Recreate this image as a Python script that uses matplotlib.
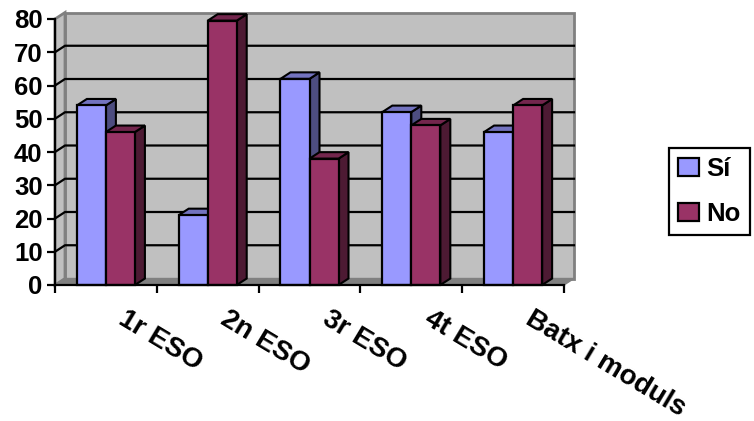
import matplotlib
matplotlib.use("Agg")
import matplotlib.pyplot as plt
from matplotlib.patches import Polygon, Patch

categories = ["1r ESO", "2n ESO", "3r ESO", "4t ESO", "Batx i moduls"]
si = [54, 21, 62, 52, 46]
no = [46, 79.5, 38, 48, 54]
yticks = list(range(0, 90, 10))

W, H = 754, 421
L, R, B, T = 55, 564, 285, 19
DX_PX, DY_PX = 10, 6.5
BAR_W = 0.285

plt.rcParams["font.family"] = ["Liberation Sans", "DejaVu Sans"]
plt.rcParams["font.weight"] = "bold"
fig = plt.figure(figsize=(W / 100, H / 100), dpi=100)
ax = fig.add_axes([L / W, 1 - B / H, (R - L) / W, (B - T) / H])
n = len(categories)
ax.set_xlim(0, n)
ax.set_ylim(0, 80)
ax.patch.set_visible(False)
dx = DX_PX / ((R - L) / n)
dy = DY_PX / ((B - T) / 80)

def poly(pts, fc, z, ec="black", lw=1.5):
    ax.add_patch(Polygon(pts, closed=True, facecolor=fc, edgecolor=ec, linewidth=lw,
                         joinstyle="miter", clip_on=False, zorder=z))

# walls and floor
poly([(dx, dy), (n + dx, dy), (n + dx, 80 + dy), (dx, 80 + dy)], "#C0C0C0", 1, "#808080", 2)
poly([(0, 0), (dx, dy), (dx, 80 + dy), (0, 80)], "#C0C0C0", 1, "#808080", 2)
poly([(0, 0), (n, 0), (n + dx, dy), (dx, dy)], "#808080", 1, "#808080", 1)
for v in yticks[1:-1]:
    ax.plot([0, dx, n + dx], [v, v + dy, v + dy], color="black", lw=1.6, zorder=2, clip_on=False)

# bars
def bar3d(x0, v, front, top, side, z):
    x1 = x0 + BAR_W
    poly([(x1, 0), (x1 + dx, dy), (x1 + dx, v + dy), (x1, v)], side, z)
    poly([(x0, v), (x1, v), (x1 + dx, v + dy), (x0 + dx, v + dy)], top, z)
    ax.bar(x0, v, BAR_W, align="edge", color=front, edgecolor="black", linewidth=1.6,
           zorder=z + 0.1, clip_on=False)

for i in range(n):
    x0 = i + 0.5 - BAR_W
    bar3d(x0, si[i], "#9999FF", "#7373BF", "#4D4D80", 3 + i)
    bar3d(x0 + BAR_W, no[i], "#993366", "#73264D", "#4D1A33", 3.5 + i)

# axes
for s in ("top", "right"):
    ax.spines[s].set_visible(False)
for s in ("left", "bottom"):
    ax.spines[s].set_linewidth(1.6)
    ax.spines[s].set_zorder(20)
ax.set_yticks(yticks)
ax.set_xticks(range(n + 1))
ax.set_xticklabels([])
ax.tick_params(axis="both", width=1.6, length=5.5, color="black")
ax.tick_params(axis="y", labelsize=18.5, pad=3.5)
for i, c in enumerate(categories):
    ax.annotate(c, xy=(i + 0.5, 0), xytext=(15, -32), textcoords="offset pixels",
                rotation=-31, rotation_mode="anchor", ha="left", va="center",
                fontsize=20, fontweight="bold", annotation_clip=False)

# legend
handles = [Patch(facecolor="#9999FF", edgecolor="black", linewidth=1.6),
           Patch(facecolor="#993366", edgecolor="black", linewidth=1.6)]
leg = fig.legend(handles, ["Sí", "No"], loc="upper left", bbox_to_anchor=(669 / W, 1 - 148 / H),
                 fontsize=18.5, frameon=True, fancybox=False, edgecolor="black", framealpha=1,
                 borderaxespad=0, borderpad=0.35, handlelength=0.8, handleheight=0.7,
                 handletextpad=0.3, labelspacing=0.8)
leg.get_frame().set_linewidth(1.6)
fig.savefig("out.png", dpi=100)
